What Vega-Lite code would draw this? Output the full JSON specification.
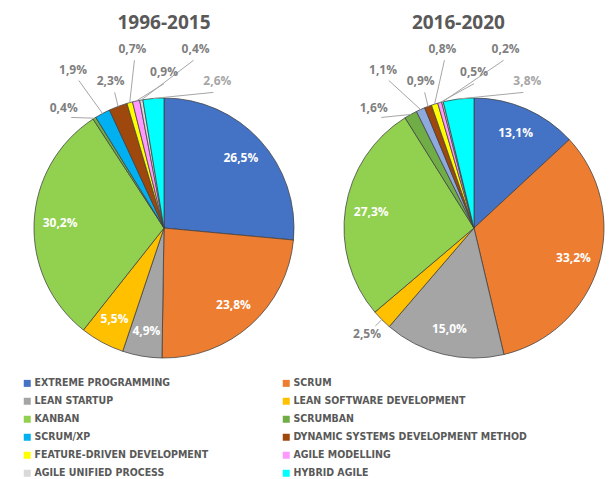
{
  "$schema": "https://vega.github.io/schema/vega-lite/v6.json",
  "padding": {"left": 22, "top": 10, "right": 0, "bottom": 0},
  "background": "white",
  "config": {"view": {"stroke": null}},
  "data": {"values": [
    {"period": "1996-2015", "method": "EXTREME PROGRAMMING", "value": 26.5},
    {"period": "1996-2015", "method": "SCRUM", "value": 23.8},
    {"period": "1996-2015", "method": "LEAN STARTUP", "value": 4.9},
    {"period": "1996-2015", "method": "LEAN SOFTWARE DEVELOPMENT", "value": 5.5},
    {"period": "1996-2015", "method": "KANBAN", "value": 30.2},
    {"period": "1996-2015", "method": "SCRUMBAN", "value": 0.4},
    {"period": "1996-2015", "method": "SCRUM/XP", "value": 1.9},
    {"period": "1996-2015", "method": "DYNAMIC SYSTEMS DEVELOPMENT METHOD", "value": 2.3},
    {"period": "1996-2015", "method": "FEATURE-DRIVEN DEVELOPMENT", "value": 0.7},
    {"period": "1996-2015", "method": "AGILE MODELLING", "value": 0.9},
    {"period": "1996-2015", "method": "AGILE UNIFIED PROCESS", "value": 0.4},
    {"period": "1996-2015", "method": "HYBRID AGILE", "value": 2.6},
    {"period": "2016-2020", "method": "EXTREME PROGRAMMING", "value": 13.1},
    {"period": "2016-2020", "method": "SCRUM", "value": 33.2},
    {"period": "2016-2020", "method": "LEAN STARTUP", "value": 15.0},
    {"period": "2016-2020", "method": "LEAN SOFTWARE DEVELOPMENT", "value": 2.5},
    {"period": "2016-2020", "method": "KANBAN", "value": 27.3},
    {"period": "2016-2020", "method": "SCRUMBAN", "value": 1.6},
    {"period": "2016-2020", "method": "SCRUM/XP", "value": 1.1},
    {"period": "2016-2020", "method": "DYNAMIC SYSTEMS DEVELOPMENT METHOD", "value": 0.9},
    {"period": "2016-2020", "method": "FEATURE-DRIVEN DEVELOPMENT", "value": 0.8},
    {"period": "2016-2020", "method": "AGILE MODELLING", "value": 0.5},
    {"period": "2016-2020", "method": "AGILE UNIFIED PROCESS", "value": 0.2},
    {"period": "2016-2020", "method": "HYBRID AGILE", "value": 3.8}
  ]},
  "transform": [
    {"joinaggregate": [{"op": "sum", "field": "value", "as": "total"}], "groupby": ["period"]},
    {"window": [{"op": "sum", "field": "value", "as": "cum"}], "groupby": ["period"], "frame": [null, 0]},
    {"calculate": "2*PI*(datum.cum-datum.value)/datum.total", "as": "a0"},
    {"calculate": "2*PI*datum.cum/datum.total", "as": "a1"},
    {"calculate": "(datum.a0+datum.a1)/2", "as": "mid"},
    {"calculate": "datum.value < 4.5", "as": "outside"},
    {"calculate": "datum.outside && datum.mid > 1.5*PI", "as": "fan"},
    {"window": [{"op": "row_number", "as": "k"}], "groupby": ["period", "fan"]},
    {"calculate": "datum.fan ? (320 + 10*(datum.k-1))*PI/180 : datum.mid", "as": "la"},
    {"calculate": "datum.fan ? (1.2 + 0.2*((datum.k-1)%2)) : (datum.outside ? 1.16 : 0.8)", "as": "lr"},
    {"calculate": "datum.lr*sin(datum.la)", "as": "lx"},
    {"calculate": "datum.lr*cos(datum.la)", "as": "ly"},
    {"calculate": "sin(datum.mid)", "as": "ex"},
    {"calculate": "cos(datum.mid)", "as": "ey"},
    {"calculate": "(datum.lr-0.09)*sin(datum.la)", "as": "tx"},
    {"calculate": "(datum.lr-0.09)*cos(datum.la)", "as": "ty"},
    {"calculate": "replace(format(datum.value,'.1f'),'.',',')+'%'", "as": "label"}
  ],
  "facet": {"column": {"field": "period", "type": "nominal", "title": null, "header": {"labels": false}}},
  "spacing": {"column": 30},
  "spec": {
    "width": 280,
    "height": 355,
    "layer": [
      {
        "mark": {"type": "arc", "outerRadius": 130, "stroke": "#3f3f3f", "strokeWidth": 0.75},
        "encoding": {
          "theta": {"field": "a0", "type": "quantitative", "scale": null, "stack": null},
          "theta2": {"field": "a1"},
          "x": {"datum": 0, "type": "quantitative", "scale": {"domain": [-1.0769, 1.0769], "nice": false, "zero": false}, "axis": null},
          "y": {"datum": 0, "type": "quantitative", "scale": {"domain": [-1.0538, 1.6769], "nice": false, "zero": false}, "axis": null},
          "color": {
            "field": "method", "type": "nominal",
            "condition": {"test": "datum.period == '2016-2020' && datum.method == 'SCRUM/XP'", "value": "#8EA9DB"},
            "scale": {
              "domain": ["EXTREME PROGRAMMING", "SCRUM", "LEAN STARTUP", "LEAN SOFTWARE DEVELOPMENT", "KANBAN", "SCRUMBAN", "SCRUM/XP", "DYNAMIC SYSTEMS DEVELOPMENT METHOD", "FEATURE-DRIVEN DEVELOPMENT", "AGILE MODELLING", "AGILE UNIFIED PROCESS", "HYBRID AGILE"],
              "range": ["#4472C4", "#ED7D31", "#A5A5A5", "#FFC000", "#92D050", "#70AD47", "#00B0F0", "#9E480E", "#FFFF00", "#FF99FF", "#D9D9D9", "#00FFFF"]
            },
            "legend": {
              "title": null, "orient": "none", "legendX": -2, "legendY": 368, "columns": 2, "direction": "horizontal",
              "padding": 0, "symbolType": "square", "symbolSize": 49, "symbolStrokeWidth": 0,
              "labelFont": "DejaVu Sans Condensed, sans-serif",
              "labelFontSize": 10.5, "labelFontWeight": "bold", "labelColor": "#595959",
              "columnPadding": 72, "rowPadding": 7, "labelLimit": 400, "labelOffset": 2
            }
          }
        }
      },
      {
        "transform": [{"filter": "datum.outside"}],
        "mark": {"type": "rule", "color": "#A6A6A6", "strokeWidth": 1},
        "encoding": {
          "x": {"field": "ex", "type": "quantitative"},
          "y": {"field": "ey", "type": "quantitative"},
          "x2": {"field": "tx"},
          "y2": {"field": "ty"}
        }
      },
      {
        "mark": {"type": "text", "font": "Open Sans", "fontSize": 12, "fontWeight": "bold", "align": "center", "baseline": "middle"},
        "encoding": {
          "x": {"field": "lx", "type": "quantitative"},
          "y": {"field": "ly", "type": "quantitative"},
          "text": {"field": "label"},
          "color": {
            "condition": [
              {"test": "datum.outside && datum.method == 'HYBRID AGILE'", "value": "#A6A6A6"},
              {"test": "datum.outside", "value": "#7F7F7F"}
            ],
            "value": "#FFFFFF"
          }
        }
      },
      {
        "transform": [
          {"aggregate": [{"op": "count", "as": "n"}], "groupby": ["period"]},
          {"calculate": "datum.period == '2016-2020' ? -0.12 : 0", "as": "titleX"}
        ],
        "mark": {"type": "text", "font": "Open Sans", "fontSize": 19, "fontWeight": "bold", "color": "#595959", "align": "center", "baseline": "middle"},
        "encoding": {
          "x": {"field": "titleX", "type": "quantitative"},
          "y": {"datum": 1.58, "type": "quantitative"},
          "text": {"field": "period"}
        }
      }
    ]
  }
}
